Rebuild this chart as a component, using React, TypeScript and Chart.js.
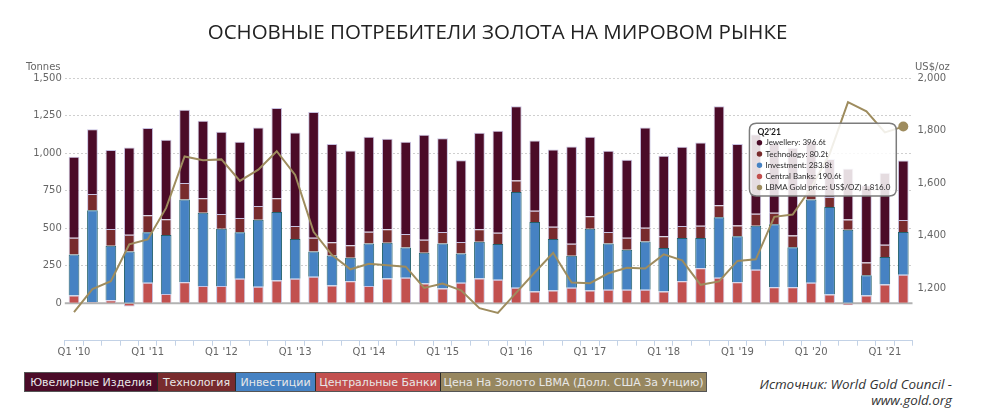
import React, { useEffect, useRef } from 'react';
import { Chart, registerables, Tooltip } from 'chart.js';

Chart.register(...registerables);

const categories = [
  "Q1 '10", "Q2 '10", "Q3 '10", "Q4 '10",
  "Q1 '11", "Q2 '11", "Q3 '11", "Q4 '11",
  "Q1 '12", "Q2 '12", "Q3 '12", "Q4 '12",
  "Q1 '13", "Q2 '13", "Q3 '13", "Q4 '13",
  "Q1 '14", "Q2 '14", "Q3 '14", "Q4 '14",
  "Q1 '15", "Q2 '15", "Q3 '15", "Q4 '15",
  "Q1 '16", "Q2 '16", "Q3 '16", "Q4 '16",
  "Q1 '17", "Q2 '17", "Q3 '17", "Q4 '17",
  "Q1 '18", "Q2 '18", "Q3 '18", "Q4 '18",
  "Q1 '19", "Q2 '19", "Q3 '19", "Q4 '19",
  "Q1 '20", "Q2 '20", "Q3 '20", "Q4 '20",
  "Q1 '21", "Q2 '21",
];

const centralBanks = [
  51, 7, 20, -22,
  136, 62, 140, 114,
  114, 163, 109, 152,
  163, 176, 118, 147,
  114, 165, 169, 132,
  98, 136, 165, 156,
  103, 78, 85, 103,
  85, 89, 89, 89,
  78, 147, 234, 169,
  140, 223, 107, 107,
  136, 58, -14, 51,
  125, 190.6,
];

const investment = [
  274, 613, 363, 345,
  337, 393, 551, 490,
  383, 310, 448, 457,
  265, 169, 201, 156,
  285, 238, 203, 205,
  301, 196, 245, 239,
  639, 464, 343, 214,
  412, 310, 268, 323,
  290, 288, 201, 404,
  306, 294, 419, 267,
  555, 584, 490, 136,
  183, 283.8,
];

const technology = [
  112, 109, 112, 112,
  113, 105, 111, 96,
  98, 95, 92, 91,
  87, 92, 87, 83,
  78, 90, 89, 87,
  76, 76, 83, 75,
  76, 75, 82, 80,
  83, 76, 80, 92,
  78, 80, 82, 80,
  73, 80, 78, 78,
  73, 67, 69, 85,
  82, 80.2,
];

const jewellery = [
  539, 432, 526, 582,
  582, 530, 489, 517,
  548, 509, 523, 602,
  624, 838, 655, 633,
  633, 604, 616, 699,
  626, 546, 644, 680,
  495, 469, 515, 648,
  530, 541, 519, 668,
  537, 528, 555, 660,
  542, 530, 465, 584,
  317, 252, 340, 515,
  480, 396.6,
];

const goldPrice = [
  1109, 1197, 1227, 1367,
  1386, 1506, 1702, 1688,
  1691, 1609, 1652, 1722,
  1632, 1415, 1326, 1272,
  1293, 1288, 1282, 1201,
  1218, 1192, 1124, 1106,
  1183, 1260, 1335, 1222,
  1219, 1257, 1278, 1275,
  1329, 1306, 1213, 1226,
  1304, 1310, 1472, 1481,
  1583, 1711, 1909, 1874,
  1794, 1816,
];

const legendNames = [
  'Ювелирные Изделия',
  'Технология',
  'Инвестиции',
  'Центральные Банки',
  'Цена На Золото LBMA (Долл. США За Унцию)',
];

const tooltipNames = ['Central Banks', 'Investment', 'Technology', 'Jewellery', 'LBMA Gold price: US$/OZ)'];

const TITLE = 'ОСНОВНЫЕ ПОТРЕБИТЕЛИ ЗОЛОТА НА МИРОВОМ РЫНКЕ';
const SOURCE_1 = 'Источник: World Gold Council -';
const SOURCE_2 = 'www.gold.org';

const C_JEW = '#4b0b28';
const C_TECH = '#782b2d';
const C_INV = '#4682c3';
const C_CB = '#c2504f';
const C_GOLD = '#9e8c5e';
const seriesColors = [C_CB, C_INV, C_TECH, C_JEW, C_GOLD];
const legendColors = [C_JEW, C_TECH, C_INV, C_CB, '#978760'];
const legendWidths = [133, 78, 80, 125, 265];
const tooltipOrder = [3, 2, 1, 0, 4];

const AXIS_BLUE = '#c3d2e6';
const TICK_FONT = { family: "'DejaVu Sans'", size: 10 };

const zeroLine = {
  id: 'zeroLine',
  beforeDatasetsDraw(chart: any) {
    const { ctx, chartArea, scales } = chart;
    const y = scales.y.getPixelForValue(0);
    ctx.save();
    ctx.strokeStyle = '#b2b2b2';
    ctx.lineWidth = 2;
    ctx.beginPath();
    ctx.moveTo(chartArea.left, y);
    ctx.lineTo(chartArea.right, y);
    ctx.stroke();
    ctx.restore();
  },
};

export default function App() {
  const ref = useRef<HTMLCanvasElement>(null);

  useEffect(() => {
    const last = categories.length - 1;
    (Tooltip.positioners as any).goldCorner = function (items: any[]) {
      const it = items.find((i: any) => i.datasetIndex === 4) || items[0];
      if (!it) return false;
      return { x: it.element.x - 7, y: it.element.y + 33 };
    };

    const lav = 'rgba(196,190,222,0.95)';
    const chart = new Chart(ref.current as HTMLCanvasElement, {
      type: 'bar',
      data: {
        labels: categories,
        datasets: [
          { label: tooltipNames[0], data: centralBanks, backgroundColor: C_CB, borderColor: lav, borderWidth: 1, order: 1 } as any,
          { label: tooltipNames[1], data: investment, backgroundColor: C_INV, borderColor: '#23606a', borderWidth: 1, order: 1 } as any,
          { label: tooltipNames[2], data: technology, backgroundColor: C_TECH, borderColor: lav, borderWidth: 1, order: 1 } as any,
          { label: tooltipNames[3], data: jewellery, backgroundColor: C_JEW, borderColor: lav, borderWidth: 1, order: 1 } as any,
          {
            type: 'line',
            label: tooltipNames[4],
            data: goldPrice,
            yAxisID: 'y1',
            borderColor: C_GOLD,
            backgroundColor: C_GOLD,
            borderWidth: 2,
            tension: 0,
            pointRadius: (c: any) => (c.dataIndex === last ? 5 : 0),
            pointHoverRadius: (c: any) => (c.dataIndex === last ? 5 : 0),
            pointBackgroundColor: C_GOLD,
            pointBorderWidth: 0,
            order: 0,
          } as any,
        ],
      },
      options: {
        responsive: false,
        animation: false,
        events: [],
        datasets: { bar: { categoryPercentage: 1, barPercentage: 0.58 } } as any,
        layout: { padding: { top: 78.3, left: 0, right: 0, bottom: 0 } },
        plugins: {
          legend: { display: false },
          title: { display: false },
          tooltip: {
            enabled: true,
            mode: 'index',
            intersect: false,
            position: 'goldCorner' as any,
            xAlign: 'right',
            yAlign: 'center',
            caretSize: 0,
            caretPadding: 0,
            backgroundColor: 'rgba(255,255,255,0.86)',
            borderColor: '#7c7c7c',
            borderWidth: 1.5,
            cornerRadius: 7,
            titleColor: '#1e1e1e',
            bodyColor: '#2a2a2a',
            titleFont: { family: 'Lato', size: 8.5, weight: 'bold' },
            bodyFont: { family: 'Lato', size: 8 },
            titleMarginBottom: 1,
            bodySpacing: 1.6,
            padding: { top: 3.5, bottom: 3.5, left: 8, right: 6 },
            displayColors: true,
            usePointStyle: true,
            boxWidth: 4,
            boxHeight: 4,
            boxPadding: 2,
            itemSort: (a: any, b: any) => tooltipOrder.indexOf(a.datasetIndex) - tooltipOrder.indexOf(b.datasetIndex),
            callbacks: {
              title: (items: any[]) => (items.length ? String(items[0].label).replace(' ', '') : ''),
              label: (item: any) => {
                const v = Number(item.raw);
                if (item.datasetIndex === 4) {
                  return `${tooltipNames[4]} ${v.toLocaleString('en-US', { minimumFractionDigits: 1, maximumFractionDigits: 1 })}`;
                }
                return `${tooltipNames[item.datasetIndex]}: ${v.toFixed(1)}t`;
              },
              labelColor: (item: any) => ({
                borderColor: seriesColors[item.datasetIndex],
                backgroundColor: seriesColors[item.datasetIndex],
                borderWidth: 0,
              }),
              labelPointStyle: () => ({ pointStyle: 'circle', rotation: 0 }),
            },
          } as any,
        },
        scales: {
          x: {
            stacked: true,
            offset: true,
            grid: { offset: true, drawOnChartArea: false, drawTicks: true, tickLength: 5, color: AXIS_BLUE },
            border: { display: true, color: AXIS_BLUE, width: 1 },
            ticks: {
              autoSkip: false,
              maxRotation: 0,
              minRotation: 0,
              padding: 1,
              color: '#666',
              font: TICK_FONT,
              callback: (_v: any, i: number) => (i % 4 === 0 ? categories[i] : ''),
            },
            afterFit: (s: any) => {
              s.height = 29.3;
            },
          },
          y: {
            stacked: true,
            position: 'left',
            min: -250,
            max: 1500,
            ticks: {
              stepSize: 250,
              padding: 3,
              color: '#666',
              font: TICK_FONT,
              callback: (v: any) => (Number(v) < 0 ? '' : Number(v).toLocaleString('en-US')),
            },
            grid: {
              drawTicks: false,
              lineWidth: 1,
              color: (c: any) => (c.tick && c.tick.value > 0 ? '#cfcfcf' : 'rgba(0,0,0,0)'),
            },
            border: { display: false, dash: [2, 2] },
            afterFit: (s: any) => {
              s.width = 64.8;
            },
          },
          y1: {
            position: 'right',
            stacked: false,
            min: 1000,
            max: 2000,
            ticks: {
              stepSize: 200,
              padding: 5,
              color: '#666',
              font: TICK_FONT,
              callback: (v: any) => (Number(v) <= 1000 ? '' : Number(v).toLocaleString('en-US')),
            },
            grid: { display: false, drawTicks: false },
            border: { display: false },
            afterFit: (s: any) => {
              s.width = 82.5;
            },
          },
        },
      } as any,
      plugins: [zeroLine],
    });

    chart.tooltip?.setActiveElements(
      [0, 1, 2, 3, 4].map((d) => ({ datasetIndex: d, index: last })),
      { x: 0, y: 0 }
    );
    chart.update();

    return () => {
      chart.destroy();
    };
  }, []);

  return (
    <div style={{ position: 'fixed', left: 0, top: 0, width: 995, height: 420, background: '#fff', overflow: 'hidden' }}>
      <canvas ref={ref} width={995} height={370} style={{ position: 'absolute', left: 0, top: 0, width: 995, height: 370 }} />
      <div
        style={{
          position: 'absolute',
          left: 0,
          top: 16,
          width: 995,
          textAlign: 'center',
          fontFamily: "'Open Sans', sans-serif",
          fontSize: 20.5,
          lineHeight: '30px',
          color: '#222',
        }}
      >
        {TITLE}
      </div>
      <div style={{ position: 'absolute', left: 26, top: 61, fontFamily: "'DejaVu Sans'", fontSize: 10, lineHeight: '12px', color: '#666' }}>
        Tonnes
      </div>
      <div style={{ position: 'absolute', left: 915, top: 61, fontFamily: "'DejaVu Sans'", fontSize: 10, lineHeight: '12px', color: '#666' }}>
        US$/oz
      </div>
      <div style={{ position: 'absolute', left: 24, top: 372, height: 20, display: 'flex', border: '1px solid #555', boxSizing: 'border-box' }}>
        {legendNames.map((n, i) => (
          <div
            key={n}
            style={{
              width: legendWidths[i],
              height: 18,
              background: legendColors[i],
              color: '#e8e8e8',
              fontFamily: "'DejaVu Sans'",
              fontSize: 11,
              display: 'flex',
              alignItems: 'center',
              justifyContent: 'center',
              whiteSpace: 'nowrap',
              borderRight: i < legendNames.length - 1 ? '1px solid #2a2a2a' : 'none',
              boxSizing: 'border-box',
            }}
          >
            {n}
          </div>
        ))}
      </div>
      <div
        style={{
          position: 'absolute',
          right: 43,
          top: 377,
          textAlign: 'right',
          fontFamily: "'Open Sans', sans-serif",
          fontStyle: 'italic',
          fontSize: 13.4,
          lineHeight: '15.5px',
          color: '#333',
        }}
      >
        <div>{SOURCE_1}</div>
        <div>{SOURCE_2}</div>
      </div>
    </div>
  );
}
